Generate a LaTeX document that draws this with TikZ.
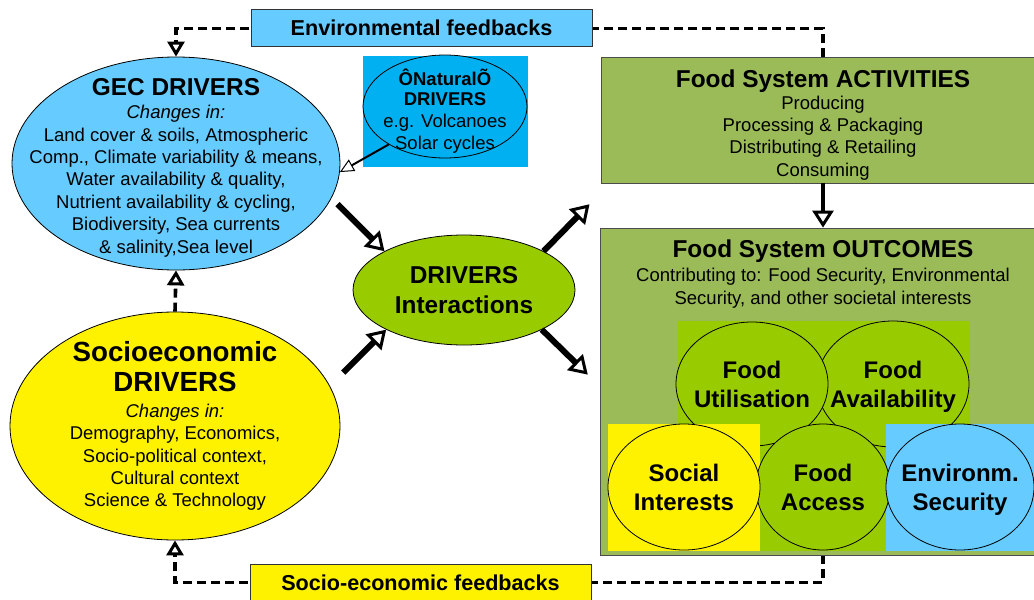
\documentclass[tikz,border=0pt]{standalone}
\usepackage{fontspec}
\setmainfont{Liberation Sans}
\usepackage{tikz}
\usetikzlibrary{calc}
\tikzset{>=latex}
\usetikzlibrary{arrows.meta}
\usetikzlibrary{shapes.geometric}
\usetikzlibrary{positioning}
\usetikzlibrary{backgrounds}

\definecolor{skyblue}{HTML}{66CCFF}
\definecolor{natblue}{HTML}{00B0F0}
\definecolor{limegreen}{HTML}{99CC00}
\definecolor{olivegreen}{HTML}{9BBB59}

\newcommand\drvbody{\fontsize{18.5}{22.4}\selectfont}
\newcommand\drvtitle{\fontsize{24.4}{28}\selectfont\bfseries}
\newcommand\socttl{\fontsize{27.7}{31}\selectfont\bfseries}
\newcommand\fsbold{\fontsize{24}{29}\selectfont\bfseries}

\tikzset{
  drv/.style={ellipse,draw=black,line width=0.8pt,inner sep=0pt},
  fsbox/.style={rectangle,draw=black!70,line width=0.8pt,fill=olivegreen,inner sep=0pt},
  fbbox/.style={rectangle,draw=black!80,line width=1pt,minimum width=341pt,minimum height=37pt,
    font=\fontsize{21.6}{24}\selectfont\bfseries},
  fbline/.style={line width=3.6pt,dash pattern=on 9pt off 5pt,
    -{Triangle[open,length=15pt,width=17pt,line width=3pt]}},
  bigarrow/.style={line width=6pt,-{Triangle[open,length=18pt,width=22pt,line width=3pt]}},
  txt/.style={align=center,inner sep=0pt,font=\drvbody}
}

\begin{document}
\begin{tikzpicture}[x=1pt,y=-1pt]
\useasboundingbox (0,0) rectangle (1034,600);

% drivers
\node[drv,fill=skyblue,minimum width=328pt,minimum height=213pt] (gec) at (176,163.5) {};
\node[txt,yshift=-4pt] (gectxt) at (gec) {{\drvtitle GEC DRIVERS}\\[1pt]{\itshape Changes in:}\\Land cover \& soils, Atmospheric\\Comp., Climate variability \& means,\\Water availability \& quality,\\Nutrient availability \& cycling,\\Biodiversity, Sea currents\\\& salinity,Sea level};
\node[drv,fill=yellow,minimum width=330pt,minimum height=228pt] (socio) at (175,426) {};
\node[txt] (sociotxt) at (socio) {{\socttl Socioeconomic}\\[8pt]{\socttl DRIVERS}\\[3pt]{\itshape Changes in:}\\Demography, Economics,\\Socio-political context,\\Cultural context\\Science \& Technology};

\fill[natblue] (363,56) rectangle (528,167);
\node[drv,fill=natblue,minimum width=164pt,minimum height=103pt] (nat) at (445,106.5) {};
\node[txt,yshift=-5pt] (nattxt) at (nat) {{\bfseries ÔNaturalÕ}\\[-3pt]{\bfseries DRIVERS}\\e.g. Volcanoes\\Solar cycles};

\node[drv,fill=limegreen,minimum width=222pt,minimum height=110pt] (inter) at (464,290) {};
\node[txt,font=\drvtitle] (intertxt) at (inter) {DRIVERS\\[2pt]Interactions};

% food system
\node[fsbox,minimum width=444pt,minimum height=126pt] (act) at (823,120) {};
\node[txt,yshift=-5pt] (acttxt) at (act) {{\drvtitle Food System ACTIVITIES}\\[-1pt]Producing\\Processing \& Packaging\\Distributing \& Retailing\\Consuming};
\node[fsbox,minimum width=446pt,minimum height=327pt] (out) at (823,391.5) {};
\node[txt,below=12pt of out.north] (outtxt) {{\drvtitle Food System OUTCOMES}\\[2pt]Contributing to: Food Security, Environmental\\Security, and other societal interests};

\fill[limegreen] (678,321) rectangle (970,551);
\node[drv,fill=limegreen,minimum width=152pt,minimum height=126pt] (avail) at (893,384) {};
\node[drv,fill=limegreen,minimum width=152pt,minimum height=124pt] (util) at (752,384) {};
\fill[yellow] (608,424) rectangle (760,551);
\fill[skyblue] (886,424) rectangle (1040,551);
\node[drv,fill=limegreen,minimum width=134pt,minimum height=126pt] (access) at (823,487) {};
\node[drv,fill=yellow,minimum width=152pt,minimum height=126pt] (social) at (684,487) {};
\node[drv,fill=skyblue,minimum width=148pt,minimum height=126pt] (envsec) at (960,487) {};
\node[txt,font=\fsbold,yshift=-3pt] at (avail) {Food\\Availability};
\node[txt,font=\fsbold] at (util) {Food\\Utilisation};
\node[txt,font=\fsbold] at (access) {Food\\Access};
\node[txt,font=\fsbold] at (social) {Social\\Interests};
\node[txt,font=\fsbold,yshift=-3pt] at (envsec) {Environm.\\Security};

% feedbacks
\node[fbbox,fill=skyblue] (envfb) at (421.5,28) {Environmental feedbacks};
\node[fbbox,fill=yellow] (socfb) at (420.5,583) {Socio-economic feedbacks};

\begin{scope}[on background layer]
\draw[fbline] (act.north) -- ++(0,-28) -| (gec.north);
\draw[fbline] (out.south) -- ++(0,27) -| (socio.south);
\end{scope}
\draw[fbline] (socio.north) -- (gec.south);

% arrows
\draw[line width=2pt,-{Triangle[open,length=14pt,width=13pt,line width=1pt,fill=white]}] (nat.214) -- (gec.-3);
\draw[bigarrow] ($(inter.154)+(-47,-47)$) -- (inter.154);
\draw[bigarrow] ($(inter.207)+(-43,43)$) -- (inter.207);
\draw[bigarrow] (inter.26) -- ++(46,-47);
\draw[bigarrow] (inter.-27) -- ++(46,45);
\draw[line width=4.5pt,-{Triangle[open,length=17pt,width=21pt,line width=3pt]}] (act.south) -- (out.north);
\end{tikzpicture}
\end{document}
